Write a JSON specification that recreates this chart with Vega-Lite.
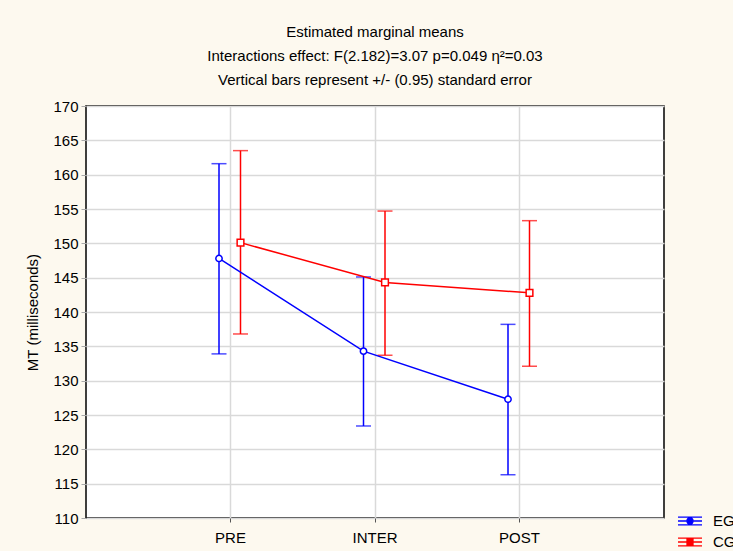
{
  "$schema": "https://vega.github.io/schema/vega-lite/v6.json",
  "autosize": "none",
  "width": 578,
  "height": 412,
  "padding": {"left": 86, "top": 106, "right": 69, "bottom": 33},
  "background": "#fdf9ef",
  "title": {
    "text": ["Estimated marginal means", "Interactions effect: F(2.182)=3.07 p=0.049 η²=0.03", "Vertical bars represent +/- (0.95) standard error"],
    "font": "Liberation Sans",
    "fontSize": 15,
    "fontWeight": "normal",
    "color": "#000000",
    "lineHeight": 24,
    "anchor": "middle",
    "offset": 11
  },
  "config": {
    "view": {"stroke": "#000000", "strokeWidth": 1.5, "fill": "#ffffff"},
    "axis": {
      "labelFont": "Liberation Sans",
      "labelFontSize": 15,
      "labelColor": "#000000",
      "titleFont": "Liberation Sans",
      "titleFontSize": 15,
      "titleFontWeight": "normal",
      "titleColor": "#000000",
      "domain": false,
      "gridColor": "#d9d9d9",
      "gridWidth": 1.5,
      "gridOpacity": 1
    },
    "legend": {
      "labelFont": "Liberation Sans",
      "labelFontSize": 15,
      "labelColor": "#000000"
    }
  },
  "data": {
    "values": [
      {"phase": "PRE", "group": "EG", "mean": 147.8, "lo": 133.9, "hi": 161.6},
      {"phase": "INTER", "group": "EG", "mean": 134.3, "lo": 123.4, "hi": 145.1},
      {"phase": "POST", "group": "EG", "mean": 127.3, "lo": 116.3, "hi": 138.2},
      {"phase": "PRE", "group": "CG", "mean": 150.1, "lo": 136.8, "hi": 163.5},
      {"phase": "INTER", "group": "CG", "mean": 144.3, "lo": 133.7, "hi": 154.7},
      {"phase": "POST", "group": "CG", "mean": 142.8, "lo": 132.1, "hi": 153.3}
    ]
  },
  "encoding": {
    "x": {
      "field": "phase",
      "type": "nominal",
      "sort": ["PRE", "INTER", "POST"],
      "scale": {"type": "band", "paddingInner": 0, "paddingOuter": 0.5},
      "axis": {"title": null, "labelAngle": 0, "grid": true, "bandPosition": 0.5, "tickSize": 4, "tickColor": "#555555", "labelPadding": 8}
    },
    "xOffset": {
      "field": "group",
      "type": "nominal",
      "sort": ["EG", "CG"],
      "scale": {"type": "band", "paddingInner": 0, "paddingOuter": 0, "range": [50, 93]}
    },
    "color": {
      "field": "group",
      "type": "nominal",
      "sort": ["EG", "CG"],
      "scale": {"domain": ["EG", "CG"], "range": ["#0000ff", "#ff0000"]},
      "legend": {
        "title": null, "orient": "none", "legendX": 591, "legendY": 402,
        "symbolSize": 576, "symbolStrokeWidth": 1.3, "labelOffset": 10, "rowPadding": 0,
        "symbolType": "M-1,-0.33H1M-1,0H1M-1,0.33H1M0,-0.33V0.33",
        "encode": {"symbols": {"update": {"stroke": {"scale": "color", "field": "value"}, "fill": {"value": "transparent"}, "opacity": {"value": 1}}}}
      }
    }
  },
  "layer": [
    {
      "mark": {"type": "rule", "strokeWidth": 1.5},
      "encoding": {
        "y": {
          "field": "lo",
          "type": "quantitative",
          "scale": {"domain": [110, 170], "nice": false, "zero": false},
          "axis": {"title": "MT (milliseconds)", "values": [110,115,120,125,130,135,140,145,150,155,160,165,170], "grid": true, "tickSize": 5, "tickColor": "#aaaaaa", "labelPadding": 3, "titlePadding": 12}
        },
        "y2": {"field": "hi"}
      }
    },
    {
      "mark": {"type": "tick", "size": 15, "thickness": 1.5},
      "encoding": {"y": {"field": "lo", "type": "quantitative",
          "axis": {"title": "MT (milliseconds)", "values": [110,115,120,125,130,135,140,145,150,155,160,165,170], "grid": true, "tickSize": 5, "tickColor": "#aaaaaa", "labelPadding": 3, "titlePadding": 12}}}
    },
    {
      "mark": {"type": "tick", "size": 15, "thickness": 1.5},
      "encoding": {"y": {"field": "hi", "type": "quantitative",
          "axis": {"title": "MT (milliseconds)", "values": [110,115,120,125,130,135,140,145,150,155,160,165,170], "grid": true, "tickSize": 5, "tickColor": "#aaaaaa", "labelPadding": 3, "titlePadding": 12}}}
    },
    {
      "mark": {"type": "line", "strokeWidth": 1.5},
      "encoding": {"y": {"field": "mean", "type": "quantitative",
          "axis": {"title": "MT (milliseconds)", "values": [110,115,120,125,130,135,140,145,150,155,160,165,170], "grid": true, "tickSize": 5, "tickColor": "#aaaaaa", "labelPadding": 3, "titlePadding": 12}}, "detail": {"field": "group"}}
    },
    {
      "transform": [{"filter": "datum.group == 'EG'"}],
      "mark": {"type": "point", "shape": "circle", "filled": false, "fill": "#ffffff", "fillOpacity": 1, "strokeWidth": 1.5, "opacity": 1, "size": 40},
      "encoding": {
        "y": {"field": "mean", "type": "quantitative",
          "axis": {"title": "MT (milliseconds)", "values": [110,115,120,125,130,135,140,145,150,155,160,165,170], "grid": true, "tickSize": 5, "tickColor": "#aaaaaa", "labelPadding": 3, "titlePadding": 12}}
      }
    },
    {
      "transform": [{"filter": "datum.group == 'CG'"}],
      "mark": {"type": "point", "shape": "square", "filled": false, "fill": "#ffffff", "fillOpacity": 1, "strokeWidth": 1.5, "opacity": 1, "size": 45},
      "encoding": {
        "y": {"field": "mean", "type": "quantitative",
          "axis": {"title": "MT (milliseconds)", "values": [110,115,120,125,130,135,140,145,150,155,160,165,170], "grid": true, "tickSize": 5, "tickColor": "#aaaaaa", "labelPadding": 3, "titlePadding": 12}}
      }
    },
    {
      "transform": [{"filter": "datum.mean < 0"}],
      "mark": {"type": "point", "filled": false, "strokeWidth": 1.3},
      "encoding": {
        "y": {"field": "mean", "type": "quantitative",
          "axis": {"title": "MT (milliseconds)", "values": [110,115,120,125,130,135,140,145,150,155,160,165,170], "grid": true, "tickSize": 5, "tickColor": "#aaaaaa", "labelPadding": 3, "titlePadding": 12}},
        "shape": {
          "field": "group",
          "type": "nominal",
          "scale": {"domain": ["EG", "CG"], "range": [
            "M-1,-0.33H1M-1,0H-0.25M0.25,0H1M-1,0.33H1M0,-0.33V-0.25M0,0.25V0.33M0.25,0A0.25,0.25 0 1,1 -0.25,0A0.25,0.25 0 1,1 0.25,0",
            "M-1,-0.33H1M-1,0H-0.25M0.25,0H1M-1,0.33H1M0,-0.33V-0.25M0,0.25V0.33M-0.25,-0.25H0.25V0.25H-0.25Z"
          ]},
          "legend": {
            "title": null, "orient": "none", "legendX": 591, "legendY": 402,
            "symbolSize": 576, "symbolStrokeWidth": 1.3, "labelOffset": 10, "rowPadding": 0,
            "encode": {"symbols": {"update": {"stroke": {"scale": "color", "field": "value"}, "fill": {"value": "transparent"}, "opacity": {"value": 1}}}}
          }
        }
      }
    }
  ]
}
